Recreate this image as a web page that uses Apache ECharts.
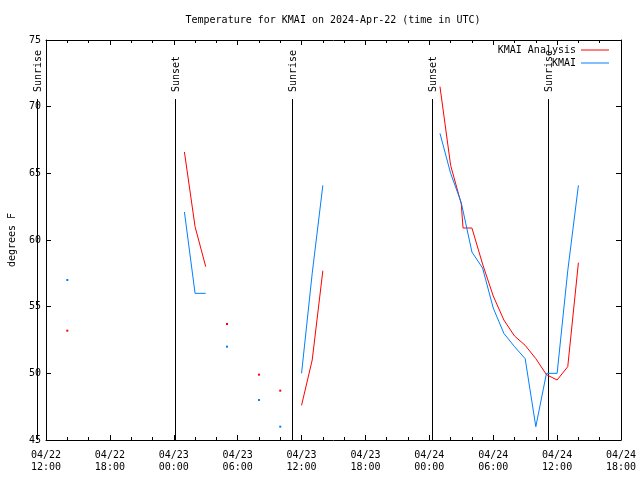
<!DOCTYPE html>
<html>
<head>
<meta charset="utf-8">
<script src="https://cdn.jsdelivr.net/npm/echarts@6/dist/echarts.min.js"></script>
<style>html,body{margin:0;padding:0;background:#fff}#c{width:640px;height:480px}</style>
</head>
<body>
<div id="c"></div>
<script>
// ---- data (times are UTC, 2024-04-MM-DD HH:MM) ----
const titleText = 'Temperature for KMAI on 2024-Apr-22 (time in UTC)';
const yAxisName = 'degrees F';
const seriesNames = ['KMAI Analysis', 'KMAI'];

const analysisTimes = ['04-22 14:00',
  '04-23 01:00', '04-23 02:00', '04-23 03:00',
  '04-23 05:00', '04-23 08:00', '04-23 10:00',
  '04-23 12:00', '04-23 13:00', '04-23 14:00',
  '04-24 01:00', '04-24 02:00', '04-24 03:00', '04-24 03:10', '04-24 04:00', '04-24 05:00',
  '04-24 06:00', '04-24 07:00', '04-24 08:00', '04-24 09:00', '04-24 10:00', '04-24 11:00',
  '04-24 12:00', '04-24 13:00', '04-24 14:00'];
const analysisValues = [53.2,
  66.6, 61.0, 58.0,
  53.7, 49.9, 48.7,
  47.6, 51.0, 57.7,
  71.5, 65.6, 62.7, 60.9, 60.9, 58.2,
  55.8, 54.0, 52.8, 52.1, 51.1, 49.9,
  49.5, 50.5, 58.3];

const obsTimes = ['04-22 14:00',
  '04-23 01:00', '04-23 02:00', '04-23 03:00',
  '04-23 05:00', '04-23 08:00', '04-23 10:00',
  '04-23 12:00', '04-23 13:00', '04-23 14:00',
  '04-24 01:00', '04-24 02:00', '04-24 03:00', '04-24 04:00', '04-24 05:00',
  '04-24 06:00', '04-24 07:00', '04-24 08:00', '04-24 09:00', '04-24 10:00', '04-24 11:00',
  '04-24 12:00', '04-24 13:00', '04-24 14:00'];
const obsValues = [57.0,
  62.1, 56.0, 56.0,
  52.0, 48.0, 46.0,
  50.0, 57.5, 64.1,
  68.0, 65.0, 62.8, 59.1, 57.9,
  54.9, 53.0, 52.0, 51.1, 46.0, 50.0,
  50.0, 57.7, 64.1];

const eventTimes = ['04-22 11:10', '04-23 00:07', '04-23 11:08', '04-24 00:13', '04-24 11:10'];
const eventLabels = ['Sunrise', 'Sunset', 'Sunrise', 'Sunset', 'Sunrise'];

const xStart = '04-22 12:00', xEnd = '04-24 18:00';
const yMin = 45, yMax = 75, yStep = 5;

// ---- helpers ----
const FONT = 'DejaVu Sans Mono';
function toHours(s) { // hours since 04-22 00:00 UTC
  const [md, hm] = s.split(' ');
  const d = parseInt(md.split('-')[1], 10);
  const [h, m] = hm.split(':').map(Number);
  return (d - 22) * 24 + h + m / 60;
}
function pad(n) { return (n < 10 ? '0' : '') + n; }
function fmtHour(v) {
  const day = 22 + Math.floor(v / 24);
  const h = Math.round(v - Math.floor(v / 24) * 24);
  return '04/' + pad(day) + '\n' + pad(h) + ':00';
}
function build(times, values) {
  const xs = times.map(toHours);
  const out = [];
  for (let i = 0; i < xs.length; i++) {
    const gapBefore = i === 0 || xs[i] - xs[i - 1] > 1.5;
    const gapAfter = i === xs.length - 1 || xs[i + 1] - xs[i] > 1.5;
    if (i > 0 && gapBefore) out.push([(xs[i] + xs[i - 1]) / 2, '-']);
    if (gapBefore && gapAfter) out.push({ value: [xs[i], values[i]], symbol: 'rect', symbolSize: 2 });
    else out.push([xs[i], values[i]]);
  }
  return out;
}
const lineTopValue = 70.6;

const xCommon = {
  type: 'value', min: toHours(xStart), max: toHours(xEnd), interval: 6,
  axisLine: { lineStyle: { color: '#000', width: 1 } },
  axisTick: { inside: true, length: 5, lineStyle: { color: '#000' } },
  minorTick: { show: true, splitNumber: 3, length: 3, lineStyle: { color: '#000' } },
  splitLine: { show: false }
};
const yCommon = {
  type: 'value', min: yMin, max: yMax, interval: yStep,
  axisLine: { show: true, lineStyle: { color: '#000', width: 1 } },
  axisTick: { show: true, inside: true, length: 5, lineStyle: { color: '#000' } },
  splitLine: { show: false }
};

const chart = echarts.init(document.getElementById('c'), null, { renderer: 'canvas' });
chart.setOption({
  animation: false,
  backgroundColor: '#fff',
  title: {
    text: titleText, left: 333, top: 15, textAlign: 'center', padding: 0,
    textStyle: { fontFamily: FONT, fontSize: 10, fontWeight: 'normal', color: '#000' }
  },
  legend: [
    { data: [seriesNames[0]], right: 31, top: 45, padding: 0, align: 'right', icon: 'rect',
      itemWidth: 28, itemHeight: 1, selectedMode: false,
      textStyle: { fontFamily: FONT, fontSize: 10, color: '#000' } },
    { data: [seriesNames[1]], right: 31, top: 58, padding: 0, align: 'right', icon: 'rect',
      itemWidth: 28, itemHeight: 1, selectedMode: false,
      textStyle: { fontFamily: FONT, fontSize: 10, color: '#000' } }
  ],
  grid: { left: 46, right: 19, top: 40, bottom: 40, containLabel: false, outerBoundsMode: 'none' },
  xAxis: [
    Object.assign({}, xCommon, {
      position: 'bottom',
      axisLabel: { show: true, margin: 9, lineHeight: 12, fontFamily: FONT, fontSize: 10, color: '#000',
        showMinLabel: true, showMaxLabel: true, formatter: fmtHour }
    }),
    Object.assign({}, xCommon, { position: 'top', axisLabel: { show: false } })
  ],
  yAxis: [
    Object.assign({}, yCommon, {
      position: 'left',
      name: yAxisName, nameLocation: 'middle', nameGap: 29, nameRotate: 90,
      nameTextStyle: { fontFamily: FONT, fontSize: 10, color: '#000' },
      axisLabel: { margin: 5, fontFamily: FONT, fontSize: 10, color: '#000' }
    }),
    Object.assign({}, yCommon, { position: 'right', axisLabel: { show: false } })
  ],
  series: [
    {
      name: seriesNames[0], type: 'line', data: build(analysisTimes, analysisValues),
      color: '#ff0000', symbol: 'none', showSymbol: true, showAllSymbol: true,
      connectNulls: false, lineStyle: { width: 1, color: '#ff0000' },
      itemStyle: { color: '#ff0000', borderWidth: 0 }, emphasis: { disabled: true }, z: 3
    },
    {
      name: seriesNames[1], type: 'line', data: build(obsTimes, obsValues),
      color: '#0080ff', symbol: 'none', showSymbol: true, showAllSymbol: true,
      connectNulls: false, lineStyle: { width: 1, color: '#0080ff' },
      itemStyle: { color: '#0080ff', borderWidth: 0 }, emphasis: { disabled: true }, z: 3
    },
    {
      type: 'custom', clip: false, silent: true, z: 2,
      data: eventTimes.map(t => [toHours(t), lineTopValue]),
      renderItem: function (params, api) {
        const x = api.value(0);
        const top = api.coord([x, api.value(1)]);
        const bot = api.coord([x, yMin]);
        const px = Math.round(top[0]) + 0.5;
        return {
          type: 'group',
          children: [
            { type: 'line', shape: { x1: px, y1: Math.round(top[1]), x2: px, y2: bot[1] },
              style: { stroke: '#000', lineWidth: 1 } },
            { type: 'text', x: px + 1, y: Math.round(top[1]) - 7, rotation: Math.PI / 2,
              style: { text: eventLabels[params.dataIndex], align: 'left', verticalAlign: 'middle',
                font: '10px "' + FONT + '"', fill: '#000' } }
          ]
        };
      }
    }
  ]
});
</script>
</body>
</html>
